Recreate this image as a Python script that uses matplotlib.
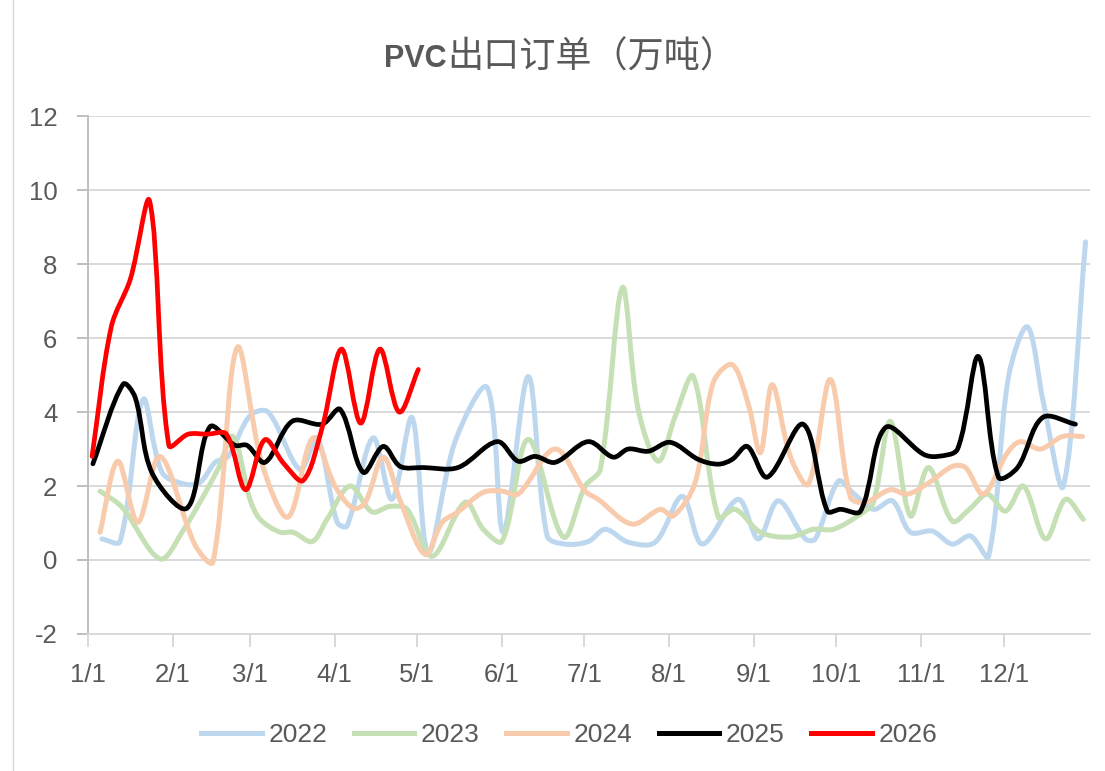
import numpy as np
import matplotlib
matplotlib.use("Agg")
import matplotlib.pyplot as plt
from matplotlib.path import Path
from matplotlib.patches import PathPatch
from matplotlib.lines import Line2D
from matplotlib.offsetbox import TextArea, HPacker, AnchoredOffsetbox

# day of year / value pairs (weekly-ish points)
d2022 = [5.1, 11.7, 20.1, 27.0, 35.4, 40.9, 46.4, 51.1, 59.1, 65.7, 77.4, 83.6, 90.9, 94.5,
         104.0, 110.9, 118.2, 124.1, 133.9, 145.6, 151.5, 160.6, 167.5, 174.1, 182.5, 188.7,
         197.1, 206.9, 216.8, 224.1, 237.2, 244.5, 251.8, 261.7, 265.3, 273.7, 278.8, 286.5,
         293.4, 300.0, 308.0, 315.3, 321.9, 328.5, 335.8, 342.7, 348.5, 355.8, 363.9]
v2022 = [0.57, 0.5, 4.34, 2.37, 2.05, 2.1, 2.64, 2.8, 3.9, 4.0, 2.45, 3.3, 1.02, 0.92,
         3.3, 1.64, 3.85, 0.2, 3.2, 4.66, 0.75, 4.96, 0.65, 0.43, 0.5, 0.83,
         0.48, 0.48, 1.72, 0.43, 1.64, 0.57, 1.6, 0.57, 0.57, 2.13, 1.83, 1.37,
         1.6, 0.75, 0.78, 0.43, 0.65, 0.1, 4.96, 6.3, 4.26, 2.0, 8.6]

d2023 = [4.4, 12.4, 26.3, 34.3, 47.4, 52.9, 59.1, 62.8, 70.1, 74.8, 81.8, 87.2, 95.6, 103.6,
         110.2, 116.4, 125.5, 137.6, 144.2, 151.1, 160.6, 173.4, 181.4, 186.9, 194.9, 200.7,
         208.0, 214.2, 220.8, 229.9, 236.1, 245.3, 256.2, 264.6, 271.9, 281.8, 286.5, 292.7,
         300.0, 306.6, 315.3, 321.9, 328.1, 334.7, 341.2, 349.3, 356.6, 363.1]
v2023 = [1.86, 1.43, 0.03, 0.75, 2.45, 3.34, 1.64, 1.1, 0.75, 0.75, 0.5, 1.1, 2.0, 1.3,
         1.45, 1.37, 0.1, 1.56, 0.83, 0.51, 3.26, 0.62, 2.0, 2.45, 7.36, 4.07,
         2.67, 3.88, 4.96, 1.16, 1.37, 0.75, 0.62, 0.83, 0.83, 1.24, 1.56, 3.75,
         1.19, 2.5, 1.05, 1.4, 1.78, 1.32, 2.0, 0.57, 1.64, 1.1]

d2024 = [4.4, 10.9, 18.2, 26.3, 39.1, 45.6, 54.4, 63.5, 73.0, 82.1, 90.1, 96.7, 101.1, 107.7,
         113.9, 123.0, 129.2, 135.0, 144.2, 151.1, 156.9, 170.4, 181.4, 186.1, 198.5, 208.8,
         213.5, 221.5, 228.1, 235.0, 240.9, 245.3, 249.6, 256.2, 262.8, 270.8, 278.1, 283.6,
         292.7, 298.9, 307.0, 315.3, 320.1, 326.6, 335.4, 340.1, 347.4, 355.5, 362.8]
v2024 = [0.75, 2.67, 1.02, 2.8, 0.4, -0.05, 5.74, 2.6, 1.16, 3.3, 2.0, 1.4, 1.55, 2.78,
         1.6, 0.15, 1.02, 1.3, 1.83, 1.86, 1.78, 3.0, 1.86, 1.64, 0.97, 1.37,
         1.19, 2.1, 4.8, 5.28, 4.2, 2.9, 4.74, 2.8, 2.05, 4.88, 1.7, 1.56,
         1.9, 1.78, 2.1, 2.53, 2.5, 1.78, 2.9, 3.2, 3.0, 3.34, 3.34]

d2025 = [1.8, 12.8, 17.2, 23.4, 36.1, 44.5, 53.6, 58.0, 64.6, 74.5, 85.4, 92.0, 100.4, 107.7,
         113.9, 122.3, 135.0, 149.3, 156.9, 163.1, 170.4, 182.5, 191.6, 197.1, 204.4, 212.4,
         222.6, 229.9, 235.0, 240.5, 247.8, 260.9, 269.7, 274.5, 281.8, 290.9, 304.7, 309.9,
         317.2, 324.8, 332.1, 339.1, 348.2, 360.2]
v2025 = [2.6, 4.75, 4.4, 2.35, 1.4, 3.6, 3.1, 3.1, 2.64, 3.75, 3.67, 4.07, 2.37, 3.07,
         2.53, 2.5, 2.5, 3.2, 2.67, 2.8, 2.64, 3.2, 2.78, 3.0, 2.94, 3.18,
         2.72, 2.59, 2.72, 3.07, 2.24, 3.67, 1.32, 1.37, 1.32, 3.58, 2.86, 2.8,
         3.0, 5.5, 2.24, 2.5, 3.85, 3.67]

d2026 = [1.5, 8.5, 15.5, 22.5, 29.5, 36.5, 43.5, 50.5, 57.5, 64.5, 71.5, 78.5, 85.5, 92.5,
         99.5, 106.5, 113.5, 120.5]
v2026 = [2.8, 6.3, 7.6, 9.7, 3.1, 3.4, 3.4, 3.4, 1.9, 3.25, 2.6, 2.15, 3.6, 5.7,
         3.7, 5.7, 4.0, 5.15]

years = ["2022", "2023", "2024", "2025", "2026"]
colors = ["#BDD7EE", "#C5E0B4", "#F8CBAD", "#000000", "#FF0000"]

month_days = [0, 31, 59, 90, 120, 151, 181, 212, 243, 273, 304, 334]
month_labels = ["1/1", "2/1", "3/1", "4/1", "5/1", "6/1", "7/1", "8/1", "9/1", "10/1", "11/1", "12/1"]

# rough pixel scale of the plot area, only used to weigh the curve tangents
SX, SY = 2.74, 37.1


def smooth_path(x, y):
    # excel-like smoothed line: cubic bezier through every point,
    # tangents shortened next to short segments so peaks don't overshoot much
    pts = np.column_stack([x, y]).astype(float)
    scr = pts * [SX, SY]
    n = len(pts)

    def dist(a, b):
        return np.hypot(*(scr[a] - scr[b]))

    verts = [pts[0]]
    codes = [Path.MOVETO]
    for i in range(n - 1):
        i0 = max(i - 1, 0)
        i3 = min(i + 2, n - 1)
        d01, d12, d23 = dist(i0, i), dist(i, i + 1), dist(i + 1, i3)
        c1 = pts[i] + (pts[i + 1] - pts[i0]) * d12 / (d01 + d12) / 3.0
        c2 = pts[i + 1] - (pts[i3] - pts[i]) * d12 / (d12 + d23) / 3.0
        verts += [c1, c2, pts[i + 1]]
        codes += [Path.CURVE4] * 3
    return Path(verts, codes)


plt.rcParams['font.family'] = ['Liberation Sans Narrow', 'Liberation Sans', 'DejaVu Sans']
plt.rcParams['axes.unicode_minus'] = False

fig = plt.figure(figsize=(11.05, 7.71), dpi=100)
ax = fig.add_axes([0.0796, 0.1777, 0.9068, 0.6718])

series = [(d2022, v2022), (d2023, v2023), (d2024, v2024), (d2025, v2025), (d2026, v2026)]
for (d, v), c in zip(series, colors):
    lw = 3.4 if c in ("#000000", "#FF0000") else 3.6
    ax.add_patch(PathPatch(smooth_path(d, v), fill=False, edgecolor=c, lw=lw,
                           capstyle='round', joinstyle='round', zorder=3))

ax.set_xlim(0, 365.5)
ax.set_ylim(-2, 12)
ax.set_yticks(range(-2, 13, 2))
ax.set_xticks(month_days)
ax.set_xticklabels(month_labels)
ax.yaxis.grid(True, color="#D9D9D9", lw=1.4)
ax.set_axisbelow(True)
for s in ["top", "right"]:
    ax.spines[s].set_visible(False)
ax.spines["left"].set_color("#BFBFBF")
ax.spines["bottom"].set_color("#D9D9D9")
ax.spines["left"].set_linewidth(1.4)
ax.spines["bottom"].set_linewidth(1.4)
ax.tick_params(axis='x', colors="#D9D9D9", labelcolor="#595959", labelsize=18.5,
               length=9, width=1.4, pad=12)
ax.tick_params(axis='y', colors="#BFBFBF", labelcolor="#595959", labelsize=18.5,
               length=8, width=1.4, pad=14)

# title: bold latin part, regular chinese part
t1 = TextArea("PVC", textprops=dict(fontsize=22, fontweight='bold', color="#595959",
                                    family=['Liberation Sans', 'DejaVu Sans']))
t2 = TextArea("出口订单（万吨）", textprops=dict(fontsize=26, color="#595959",
                                           family=['Noto Sans CJK SC', 'DejaVu Sans']))
title_box = HPacker(children=[t1, t2], align='baseline', pad=0, sep=1)
fig.add_artist(AnchoredOffsetbox(loc='center', child=title_box, frameon=False,
                                 bbox_to_anchor=(0.507, 0.926),
                                 bbox_transform=fig.transFigure, borderpad=0))

handles = [Line2D([], [], color=c, lw=3.6) for c in colors]
fig.legend(handles, years, loc='center', bbox_to_anchor=(0.515, 0.047), ncol=5,
           frameon=False, fontsize=19, handlelength=2.3, columnspacing=1.0,
           handletextpad=0.25, labelcolor="#595959")

# chart-area border on the left edge
fig.add_artist(Line2D([0.0115, 0.0115], [0, 1], transform=fig.transFigure,
                      color="#D9D9D9", lw=1.0))

fig.savefig("out.png", dpi=100)
